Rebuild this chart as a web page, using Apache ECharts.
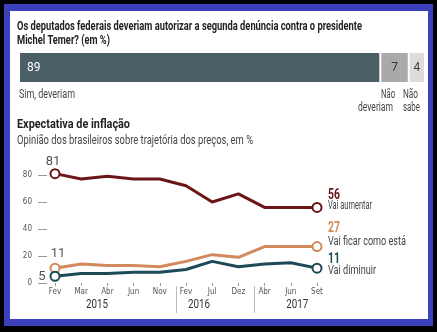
<!DOCTYPE html>
<html>
<head>
<meta charset="utf-8">
<script src="https://cdn.jsdelivr.net/npm/echarts@6/dist/echarts.min.js"></script>
<style>
  html, body { margin: 0; padding: 0; background: #000; }
  #chart { width: 437px; height: 332px; }
</style>
</head>
<body>
<div id="chart"></div>
<script>
// Poll question: stacked shares
const pollQuestion = ['Os deputados federais deveriam autorizar a segunda denúncia contra o presidente', 'Michel Temer? (em %)'];
const pollCategories = ['Sim, deveriam', 'Não deveriam', 'Não sabe'];
const pollValues = [89, 7, 4];

// Inflation expectation survey
const chartTitle = 'Expectativa de inflação';
const chartSubtitle = 'Opinião dos brasileiros sobre trajetória dos preços, em %';
const months = ['Fev', 'Mar', 'Abr', 'Jun', 'Nov', 'Fev', 'Jul', 'Dez', 'Abr', 'Jun', 'Set'];
const years = ['2015', '2016', '2017'];
const yearStart = [0, 5, 8];
const seriesNames = ['Vai aumentar', 'Vai ficar como está', 'Vai diminuir'];
const vaiAumentar = [81, 77, 79, 77, 77, 72, 60, 66, 56, 56, 56];
const vaiFicar = [11, 14, 13, 13, 12, 16, 21, 19, 27, 27, 27];
const vaiDiminuir = [5, 7, 7, 8, 8, 10, 16, 12, 14, 15, 11];
const seriesData = [vaiAumentar, vaiFicar, vaiDiminuir];

const FONT = 'Roboto, "Liberation Sans", sans-serif';
const SMALL = '"DejaVu Sans Condensed", "Liberation Sans", sans-serif';
const colors = ['#6c1518', '#d3895b', '#1d4a57'];
const pollColors = ['#4a5e65', '#a9a9a9', '#dcdcdc'];
const pollLabelColors = ['#ffffff', '#333333', '#444444'];

// Condensed look: squeeze each text run horizontally to a set width
const measureCtx = document.createElement('canvas').getContext('2d');
function squeeze(text, font, width) {
  measureCtx.font = font;
  return width / measureCtx.measureText(text).width;
}
function fittedText(text, x, y, font, width, fill) {
  return {
    type: 'text', x: x, y: y,
    scaleX: squeeze(text, font, width),
    style: { text: text, font: font, fill: fill, verticalAlign: 'middle' }
  };
}

const chart = echarts.init(document.getElementById('chart'), null, { renderer: 'canvas' });

const last = months.length - 1;
function lineSeries(name, data, color, startLabel) {
  return {
    name: name,
    type: 'line',
    xAxisIndex: 1,
    yAxisIndex: 1,
    clip: false,
    data: data.map(function (v, i) {
      const item = { value: v };
      if (i === 0) {
        item.label = Object.assign({
          show: true,
          formatter: String(v),
          fontFamily: FONT,
          fontSize: 13,
          color: '#555'
        }, startLabel);
      }
      return item;
    }),
    lineStyle: { color: color, width: 3 },
    itemStyle: { color: '#fff', borderColor: color, borderWidth: 2 },
    symbol: 'circle',
    showSymbol: true,
    symbolSize: function (v, p) { return (p.dataIndex === 0 || p.dataIndex === last) ? 9 : 0; },
    z: 3
  };
}

const option = {
  backgroundColor: '#000',
  animation: false,
  grid: [
    { left: 19, right: 12, top: 52, height: 31 },
    { left: 55, right: 120, top: 175, bottom: 49 }
  ],
  xAxis: [
    { gridIndex: 0, type: 'value', min: 0, max: 100, show: false },
    {
      gridIndex: 1,
      type: 'category',
      data: months,
      boundaryGap: false,
      axisLine: { show: false },
      axisTick: { show: true, length: 3, lineStyle: { color: '#999' } },
      axisLabel: { fontFamily: SMALL, fontSize: 8, color: '#555', margin: 5, interval: 0 },
      splitLine: { show: false }
    }
  ],
  yAxis: [
    { gridIndex: 0, type: 'category', data: ['poll'], show: false },
    {
      gridIndex: 1,
      type: 'value',
      min: 0,
      max: 80,
      interval: 20,
      offset: 8,
      axisLine: { show: false },
      axisTick: { show: true, length: 9, lineStyle: { color: '#999' } },
      axisLabel: { fontFamily: SMALL, fontSize: 8, color: '#555', margin: 15 },
      splitLine: { show: false }
    }
  ],
  series: pollValues.map(function (v, i) {
    return {
      name: pollCategories[i],
      type: 'bar',
      stack: 'poll',
      xAxisIndex: 0,
      yAxisIndex: 0,
      barWidth: '100%',
      data: [v],
      itemStyle: { color: pollColors[i], borderColor: '#fff', borderWidth: 1 },
      label: {
        show: true,
        position: i === 0 ? 'insideLeft' : 'inside',
        distance: 8,
        formatter: String(v),
        fontFamily: FONT,
        fontSize: 12,
        color: pollLabelColors[i]
      }
    };
  }).concat([
    lineSeries(seriesNames[0], vaiAumentar, colors[0], { position: 'top', distance: 2, offset: [-2, 2] }),
    lineSeries(seriesNames[1], vaiFicar, colors[1], { position: 'top', distance: 2, offset: [3, 0] }),
    lineSeries(seriesNames[2], vaiDiminuir, colors[2], { position: 'left', distance: 4, offset: [0, 0] })
  ])
};

chart.setOption(option);

// Frame, headings, poll captions, year bands, end labels
function px(i) { return chart.convertToPixel({ xAxisIndex: 1 }, i); }
function between(i, f) { return px(i) + f * (px(i + 1) - px(i)); }

const g = [
  { type: 'rect', shape: { x: 4, y: 4, width: 429, height: 322 }, style: { fill: '#3b40bd' }, z: -10 },
  { type: 'rect', shape: { x: 10, y: 11, width: 418, height: 308 }, style: { fill: '#fff' }, z: -9 },
  fittedText(pollQuestion[0], 17, 27, 'bold 12px ' + FONT, 345, '#222'),
  fittedText(pollQuestion[1], 17, 41, 'bold 12px ' + FONT, 93, '#222'),
  fittedText(pollCategories[0], 19, 95, '12px ' + FONT, 56, '#444'),
  fittedText('Não', 381, 95, '12px ' + FONT, 14, '#444'),
  fittedText('deveriam', 358, 108, '12px ' + FONT, 35, '#444'),
  fittedText('Não', 403, 95, '12px ' + FONT, 15, '#444'),
  fittedText('sabe', 403, 108, '12px ' + FONT, 17, '#444'),
  fittedText(chartTitle, 17, 125, 'bold 13px ' + FONT, 113, '#222'),
  fittedText(chartSubtitle, 17, 141, '12px ' + FONT, 236, '#444')
];

const yearX = [between(1, 0.6), between(5, 0.5), between(9, 0.25)];
years.forEach(function (y, k) {
  g.push(fittedText(y, yearX[k] - 11, 305, '13px ' + FONT, 22, '#333'));
});
yearStart.slice(1).forEach(function (s) {
  const x = Math.round(between(s - 1, 0.6)) + 0.5;
  g.push({ type: 'line', shape: { x1: x, y1: 286, x2: x, y2: 313 }, style: { stroke: '#bbb', lineWidth: 1 } });
});

// End-of-line value and name, placed beside each series' last point
const endValueDy = [-12, -18, -9];
const endNameDy = [-1, -5, 3];
const endNameWidth = [44, 78, 48];
seriesData.forEach(function (data, k) {
  const p = chart.convertToPixel({ xAxisIndex: 1, yAxisIndex: 1 }, [last, data[last]]);
  const x = p[0] + 11;
  g.push(fittedText(String(data[last]), x, p[1] + endValueDy[k], 'bold 14px ' + FONT, 12, colors[k]));
  g.push(fittedText(seriesNames[k], x, p[1] + endNameDy[k], '12px ' + FONT, endNameWidth[k], '#444'));
});

chart.setOption({ graphic: g });
</script>
</body>
</html>
